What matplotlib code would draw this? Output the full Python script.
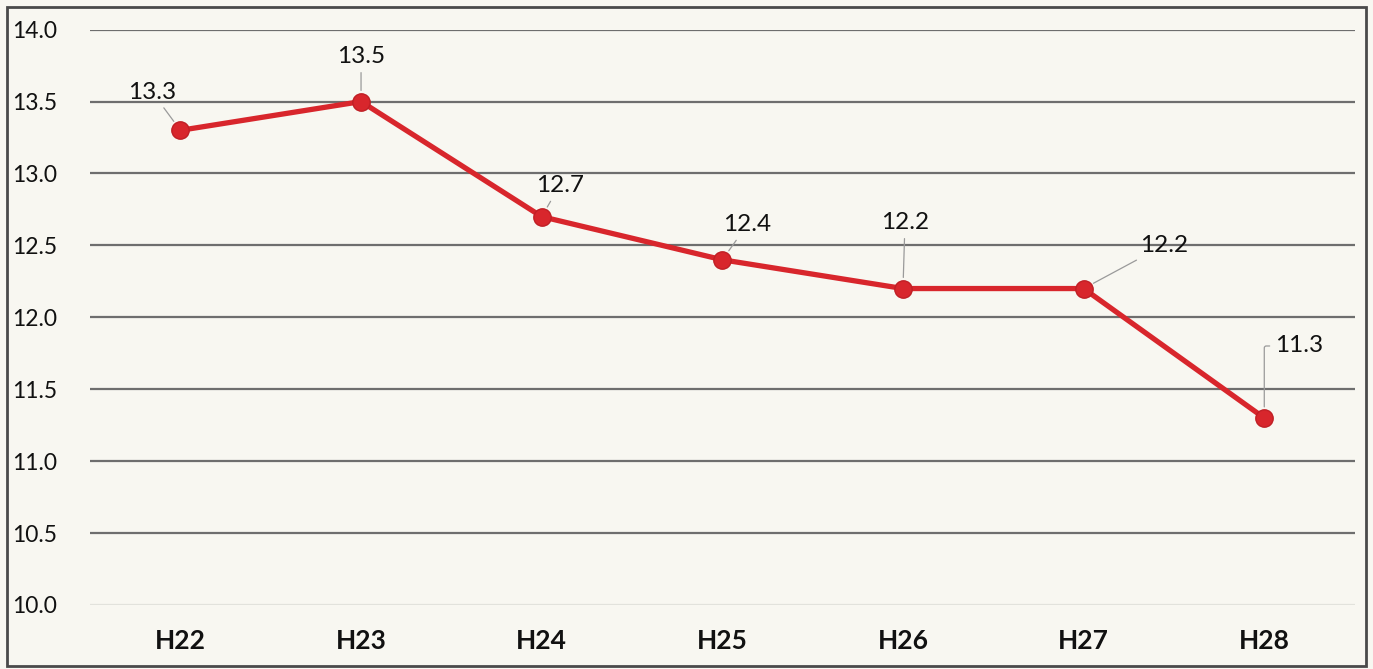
import matplotlib.pyplot as plt
from matplotlib.patches import Rectangle

# Chart values
years = ['H22', 'H23', 'H24', 'H25', 'H26', 'H27', 'H28']
values = [13.3, 13.5, 12.7, 12.4, 12.2, 12.2, 11.3]
value_labels = ['13.3', '13.5', '12.7', '12.4', '12.2', '12.2', '11.3']
y_ticks = [10.0, 10.5, 11.0, 11.5, 12.0, 12.5, 13.0, 13.5, 14.0]

# label offsets from each point, in pixels
label_offsets = [(-28, 38), (0, 45), (18, 31), (25, 35), (2, 66), (80, 43), (35, 72)]

plt.rcParams['font.family'] = ['Lato', 'DejaVu Sans']
bg = '#f8f7f1'

fig = plt.figure(figsize=(13.73, 6.69), dpi=100, facecolor=bg)
ax = fig.add_axes([0.0656, 0.0957, 0.921, 0.86])
ax.set_facecolor(bg)

x = list(range(len(years)))
ax.plot(x, values, color='#d8262c', lw=3.8, marker='o', ms=12.5,
        markerfacecolor='#d8262c', markeredgecolor='#c01f25', zorder=3)

for i, (xi, v, lab, (dx, dy)) in enumerate(zip(x, values, value_labels, label_offsets)):
    conn = 'angle,angleA=0,angleB=90,rad=2' if i == len(x) - 1 else 'arc3'
    ax.annotate(lab, (xi, v), xytext=(dx, dy), textcoords='offset pixels',
                ha='center', va='center', fontsize=17.5, color='#111111',
                arrowprops=dict(arrowstyle='-', color='#9a9a9a', lw=0.9,
                                shrinkA=2, shrinkB=8, connectionstyle=conn))

ax.set_xlim(-0.5, 6.5)
ax.set_ylim(10.0, 14.0)
ax.set_yticks(y_ticks)
ax.set_yticklabels([f'{t:.1f}' for t in y_ticks], fontsize=16.5, color='#111111')
ax.set_xticks(x)
ax.set_xticklabels(years, fontsize=19, fontweight='bold', color='#111111')
ax.tick_params(axis='y', length=0, pad=24)
ax.tick_params(axis='x', length=0, pad=17)
for s in ax.spines.values():
    s.set_visible(False)
ax.grid(axis='y', color='#6e6e6e', lw=1.6)
ax.get_ygridlines()[0].set_color('#e2e2dc')

# scanned frame around the chart
fig.add_artist(Rectangle((0.005, 0.004), 0.99, 0.985, transform=fig.transFigure,
                         fill=False, edgecolor='#4a4a4a', lw=2))

fig.savefig('out.png', dpi=100, facecolor=bg)
